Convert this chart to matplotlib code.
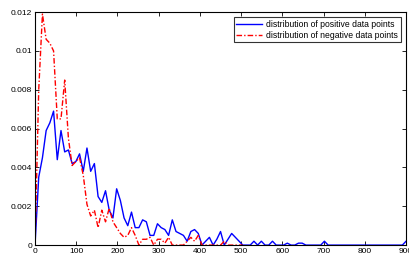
import matplotlib.pyplot as plt
import numpy as np

# bin centres (step 9) and estimated densities
x = np.arange(0, 901, 9)

pos = [0, 0.0035, 0.0045, 0.0059, 0.0063, 0.0069, 0.0044, 0.0059, 0.0048, 0.0049,
       0.0042, 0.0043, 0.0047, 0.0038, 0.0050, 0.0038, 0.0042, 0.0025, 0.0022, 0.0028,
       0.0018, 0.0014, 0.0029, 0.0023, 0.0014, 0.0010, 0.0017, 0.0009, 0.0009, 0.0013,
       0.0012, 0.0005, 0.0005, 0.0011, 0.0009, 0.0008, 0.0005, 0.0013, 0.0007, 0.0006,
       0.0005, 0.0002, 0.0007, 0.0008, 0.0006, 0.0, 0.0002, 0.0004, 0.0, 0.0003,
       0.0007, 0.0, 0.0003, 0.0006, 0.0004, 0.0002, 0, 0, 0, 0.0002,
       0, 0.0002, 0, 0, 0.0002, 0, 0, 0, 0.0001, 0,
       0, 0.0001, 0.0001, 0, 0, 0, 0, 0, 0.0002, 0,
       0, 0, 0, 0, 0, 0, 0, 0, 0, 0,
       0, 0, 0, 0, 0, 0, 0, 0, 0, 0, 0.0002]

neg = [0, 0.0080, 0.0119, 0.0106, 0.0104, 0.0100, 0.0065, 0.0065, 0.0085, 0.0055,
       0.0041, 0.0043, 0.0045, 0.0036, 0.0021, 0.0015, 0.0018, 0.0009, 0.0018, 0.0012,
       0.0019, 0.0012, 0.0009, 0.0006, 0.0004, 0.0005, 0.0009, 0.0005, 0.0, 0.0003,
       0.0003, 0.0004, 0.0, 0.0003, 0.0003, 0.0001, 0.0004, 0, 0, 0,
       0, 0.0002, 0.0004, 0.0002, 0.0005, 0, 0, 0, 0, 0,
       0, 0.0002, 0, 0, 0, 0, 0]

plt.rcParams['font.family'] = ['Liberation Sans', 'DejaVu Sans']
fig = plt.figure(figsize=(4.1, 2.58), dpi=100)
ax = fig.add_axes([0.0854, 0.05, 0.905, 0.903])

ax.plot(x, pos, color='blue', lw=1, label='distribution of positive data points')
ax.plot(x[:len(neg)], neg, color='red', lw=1, dashes=(4, 1.5, 1, 1.5),
        label='distribution of negative data points')

ax.set_xlim(0, 900)
ax.set_ylim(0, 0.012)
ax.set_xticks(np.arange(0, 901, 100))
ax.set_yticks(np.arange(0, 0.0121, 0.002))
ax.set_yticklabels(['0', '0.002', '0.004', '0.006', '0.008', '0.01', '0.012'])
ax.tick_params(direction='in', top=True, right=True, labelsize=6, length=3, width=0.6, pad=2)
for s in ax.spines.values():
    s.set_linewidth(0.8)

leg = ax.legend(loc='upper right', fontsize=6.2, frameon=True, fancybox=False,
                edgecolor='black', borderaxespad=0.6, handlelength=3,
                borderpad=0.3, labelspacing=0.2, handletextpad=0.5)
leg.get_frame().set_linewidth(0.8)

fig.savefig('out.png', dpi=100)
